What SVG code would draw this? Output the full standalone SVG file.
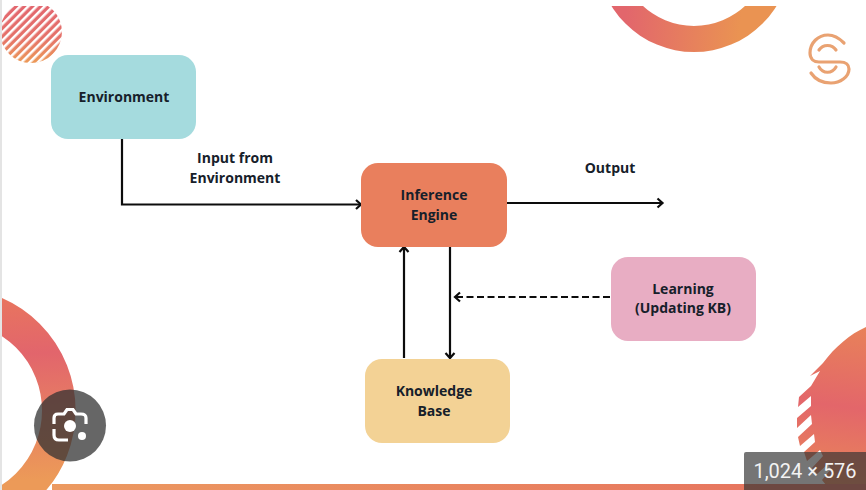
<svg xmlns="http://www.w3.org/2000/svg" width="866" height="490" viewBox="0 0 866 490">
<style>
.t{font-family:"Open Sans","Liberation Sans",sans-serif;font-weight:700;font-size:14px;fill:#16202a;text-anchor:middle}
.c{fill:none;stroke:#0c0c0c;stroke-width:2.2}
.l{fill:none;stroke:#e9a272;stroke-width:3.2;stroke-linecap:round;stroke-linejoin:round}
</style>
<defs>
<marker id="a" markerUnits="userSpaceOnUse" markerWidth="12" markerHeight="12" refX="10" refY="6" orient="auto"><path d="M5 1.500L10 6L5 10.500" fill="none" stroke="#0c0c0c" stroke-width="2.2"/></marker>
<linearGradient id="g1" x1="0" y1="0" x2="0" y2="1"><stop offset="0" stop-color="#e2646f"/><stop offset=".6" stop-color="#e5736a"/><stop offset="1" stop-color="#ec9a58"/></linearGradient>
<linearGradient id="g2" gradientUnits="userSpaceOnUse" x1="625" y1="20" x2="740" y2="30"><stop offset="0" stop-color="#e2666c"/><stop offset="1" stop-color="#ea9352"/></linearGradient>
<linearGradient id="g3" gradientUnits="userSpaceOnUse" x1="20" y1="300" x2="30" y2="480"><stop offset="0" stop-color="#e8745f"/><stop offset=".3" stop-color="#e2656c"/><stop offset="1" stop-color="#ec9a58"/></linearGradient>
<linearGradient id="g4" gradientUnits="userSpaceOnUse" x1="860" y1="325" x2="840" y2="490"><stop offset="0" stop-color="#e88259"/><stop offset=".5" stop-color="#e3666a"/><stop offset="1" stop-color="#e98858"/></linearGradient>
<linearGradient id="g5" gradientUnits="userSpaceOnUse" x1="50" y1="0" x2="866" y2="0"><stop offset="0" stop-color="#ec9a60"/><stop offset="1" stop-color="#e6705f"/></linearGradient>
<pattern id="h" patternUnits="userSpaceOnUse" width="5.800" height="5.800" patternTransform="rotate(45)"><rect width="2.500" height="5.800" fill="#fff"/></pattern>
<clipPath id="top"><rect x="2" y="6" width="864" height="484"/></clipPath>
</defs>
<rect width="866" height="490" fill="#fff"/>
<g clip-path="url(#top)">
<circle cx="31" cy="32" r="31" fill="url(#g1)"/>
<circle cx="31" cy="32" r="31.500" fill="url(#h)"/>
<path d="M597 -45a97 97 0 1 0 194 0a97 97 0 1 0 -194 0ZM619 -49a75 75 0 1 0 150 0a75 75 0 1 0 -150 0Z" fill="url(#g2)" fill-rule="evenodd"/>
<circle cx="-47" cy="410.500" r="105.800" fill="none" stroke="url(#g3)" stroke-width="33.600"/>
<path d="M866 327C850 334 835 347 823 363L810 376L820 371L811 386L799 397L798 407L811 396L811 406L797 418L797 428L811 415L812 424L798 437L800 446L814 434L815 442L804 452L807 461L820 450L823 456L812 468L817 474L828 464L831 469L822 480L830 490H866Z" fill="url(#g4)"/>
<rect x="52" y="484" width="814" height="6" fill="url(#g5)"/>
</g>
<rect x="0" y="0" width="2" height="490" fill="#e4e4e4"/>
<g id="logo">
<path class="l" d="M844 43C839 38 834 35 828 35C818 35 810 43 810 53C810 59 814 62 819 62L840 62C846 62 849 65 849 69C849 77 840 83 831 83C822 83 815 79 811 73"/>
<path class="l" d="M819 50C823 44 832 44 836 50"/>
<path class="l" d="M819 67C823 74 832 74 836 67"/>
</g>
<g id="connectors">
<path class="c" d="M122 139V204.500H361" marker-end="url(#a)"/>
<path class="c" d="M507 203H662.500" marker-end="url(#a)"/>
<path class="c" d="M404 358V247" marker-end="url(#a)"/>
<path class="c" d="M450 247V358" marker-end="url(#a)"/>
<path class="c" d="M610 297H455" stroke-dasharray="7 3.500" marker-end="url(#a)"/>
</g>
<g id="environment"><rect x="51" y="55" width="145" height="84" rx="17" fill="#a5dbde"/><text class="t" x="124" y="102">Environment</text></g>
<g id="inference-engine"><rect x="361" y="163" width="146" height="84" rx="17" fill="#e97f5d"/><text class="t" x="434" y="200">Inference</text><text class="t" x="434" y="220">Engine</text></g>
<g id="knowledge-base"><rect x="365" y="359" width="145" height="84" rx="17" fill="#f3d295"/><text class="t" x="434" y="396">Knowledge</text><text class="t" x="434" y="416">Base</text></g>
<g id="learning"><rect x="611" y="257" width="145" height="84" rx="17" fill="#e8adc3"/><text class="t" x="683" y="294">Learning</text><text class="t" x="683" y="313">(Updating KB)</text></g>
<g id="label-input"><text class="t" x="235" y="163">Input from</text><text class="t" x="235" y="183">Environment</text></g>
<g id="label-output"><text class="t" x="610" y="173">Output</text></g>
<g id="lens">
<circle cx="70" cy="425.500" r="36" fill="#333" fill-opacity=".75"/>
<path d="M54 424V418Q54 414 58 414H64L67 409.500H73L76 414H81Q86 414 86 418V424" fill="none" stroke="#fff" stroke-width="3.200"/>
<path d="M54 429V435Q54 440 59 440H68" fill="none" stroke="#fff" stroke-width="3.200"/>
<circle cx="70" cy="426" r="6" fill="#fff"/>
<circle cx="82" cy="436" r="4" fill="#fff"/>
</g>
<g id="size-badge">
<path d="M744 490V454Q744 452 746 452H866V490Z" fill="#333" fill-opacity=".68"/>
<text x="805" y="478" font-family="Roboto,'Liberation Sans',sans-serif" font-size="20" fill="#f2f2f2" text-anchor="middle">1,024 × 576</text>
</g>
</svg>
